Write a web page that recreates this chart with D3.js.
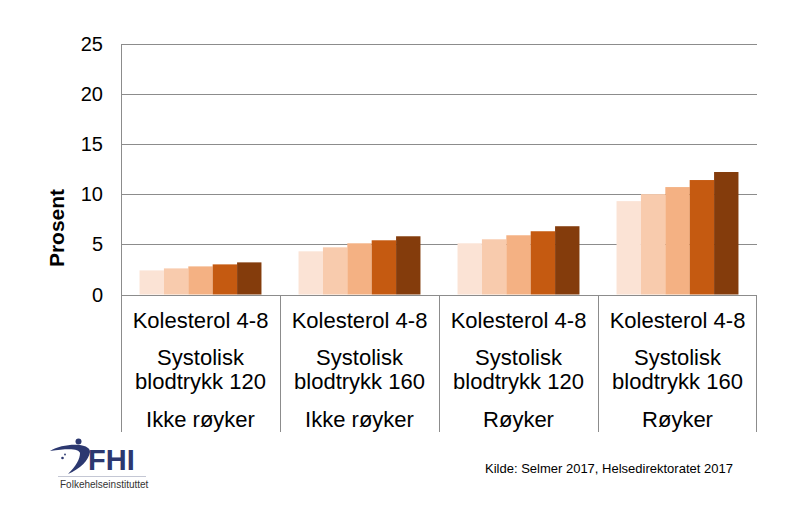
<!DOCTYPE html>
<html lang="no">
<head>
<meta charset="utf-8">
<title>Prosent</title>
<script src="https://d3js.org/d3.v7.min.js"></script>
<style>
  body { margin: 0; background: #fff; }
  svg { display: block; font-family: "Liberation Sans", Arial, sans-serif; }
</style>
</head>
<body>
<svg id="chart" width="789" height="511"></svg>
<script>
// data
var groups = ["g1", "g2", "g3", "g4"];
var cholLabels = ["Kolesterol 4-8", "Kolesterol 4-8", "Kolesterol 4-8", "Kolesterol 4-8"];
var bpLabels = [["Systolisk", "blodtrykk 120"], ["Systolisk", "blodtrykk 160"],
                ["Systolisk", "blodtrykk 120"], ["Systolisk", "blodtrykk 160"]];
var smokeLabels = ["Ikke røyker", "Ikke røyker", "Røyker", "Røyker"];
var series = ["s1", "s2", "s3", "s4", "s5"];
var values = [
    [2.4, 2.6, 2.8, 3.0, 3.2],
    [4.3, 4.7, 5.1, 5.4, 5.8],
    [5.1, 5.5, 5.9, 6.3, 6.8],
    [9.3, 10.0, 10.7, 11.4, 12.2]
];
var yTicks = [0, 5, 10, 15, 20, 25];
var colors = ["#fbe3d5", "#f8cbad", "#f4b183", "#c55a11", "#843c0c"];

var plotL = 121, plotR = 757, plotT = 43.5, plotB = 294.5, catBottom = 432;
var gridColor = "#8c8c8c";

var svg = d3.select("#chart");

var x0 = d3.scaleBand().domain(groups).range([plotL, plotR]).paddingInner(0).paddingOuter(0);
var x1 = d3.scaleBand().domain(series).range([0, x0.bandwidth()]).paddingInner(0).paddingOuter(0.76);
var y = d3.scaleLinear().domain([0, 25]).range([plotB, plotT]);
var color = d3.scaleOrdinal().domain(series).range(colors);

// gridlines
svg.append("g")
    .selectAll("line")
    .data(yTicks.filter(function(d) { return d > 0; }))
    .join("line")
    .attr("x1", plotL).attr("x2", plotR)
    .attr("y1", function(d) { return Math.round(y(d)) + 0.5; })
    .attr("y2", function(d) { return Math.round(y(d)) + 0.5; })
    .attr("stroke", gridColor).attr("stroke-width", 1);

// bars
var bar = svg.append("g")
    .selectAll("g")
    .data(groups)
    .join("g")
    .attr("transform", function(d) { return "translate(" + x0(d) + ",0)"; });

bar.selectAll("rect")
    .data(function(d, i) { return values[i].map(function(v, j) { return { s: series[j], v: v }; }); })
    .join("rect")
    .attr("x", function(d) { return x1(d.s); })
    .attr("width", x1.bandwidth())
    .attr("y", function(d) { return y(d.v); })
    .attr("height", function(d) { return y(0) - y(d.v); })
    .attr("fill", function(d) { return color(d.s); });

// y axis labels
svg.append("g")
    .selectAll("text")
    .data(yTicks)
    .join("text")
    .attr("x", 103)
    .attr("y", function(d) { return y(d); })
    .attr("dy", "0.35em")
    .attr("text-anchor", "end")
    .attr("font-size", 20)
    .attr("fill", "#000")
    .text(function(d) { return d; });

svg.append("text")
    .attr("transform", "translate(64,228) rotate(-90)")
    .attr("text-anchor", "middle")
    .attr("font-size", 21)
    .attr("font-weight", "bold")
    .text("Prosent");

// axis frame and category dividers
var axisY = Math.round(y(0)) + 0.5;
svg.append("line")
    .attr("x1", plotL).attr("x2", plotR)
    .attr("y1", axisY).attr("y2", axisY)
    .attr("stroke", gridColor);

svg.append("line")
    .attr("x1", plotL + 0.5).attr("x2", plotL + 0.5)
    .attr("y1", Math.round(y(25)) + 0.5).attr("y2", catBottom)
    .attr("stroke", gridColor);

svg.append("g")
    .selectAll("line")
    .data(groups.slice(1).concat(["end"]))
    .join("line")
    .attr("x1", function(d) { return d === "end" ? plotR - 0.5 : Math.round(x0(d)) + 0.5; })
    .attr("x2", function(d) { return d === "end" ? plotR - 0.5 : Math.round(x0(d)) + 0.5; })
    .attr("y1", axisY).attr("y2", catBottom)
    .attr("stroke", gridColor);

// category labels
var cat = svg.append("g")
    .attr("font-size", 22)
    .attr("text-anchor", "middle")
    .selectAll("g")
    .data(groups)
    .join("g")
    .attr("transform", function(d) { return "translate(" + (x0(d) + x0.bandwidth() / 2) + ",0)"; });

cat.append("text").attr("y", 328).text(function(d, i) { return cholLabels[i]; });
cat.append("text").attr("y", 365).text(function(d, i) { return bpLabels[i][0]; });
cat.append("text").attr("y", 389).text(function(d, i) { return bpLabels[i][1]; });
cat.append("text").attr("y", 427).text(function(d, i) { return smokeLabels[i]; });

// source
svg.append("text")
    .attr("x", 485).attr("y", 473)
    .attr("font-size", 13)
    .attr("fill", "#000")
    .text("Kilde: Selmer 2017, Helsedirektoratet 2017");

// FHI logo
var navy = "#2c3870";
var logo = svg.append("g");
logo.append("path")
    .attr("d", "M50,451 C58,446 70,444 80,445 C86,446 90,448 90,452 C89,460 80,469 68,474 C76,466 80,459 80,453 C79,449 70,448 50,451 Z")
    .attr("fill", navy);
logo.append("circle").attr("cx", 78.5).attr("cy", 441.5).attr("r", 3).attr("fill", navy);
logo.append("circle").attr("cx", 62.5).attr("cy", 458).attr("r", 1.3).attr("fill", navy);
logo.append("circle").attr("cx", 65).attr("cy", 454.5).attr("r", 0.9).attr("fill", navy);
logo.append("text")
    .attr("x", 88).attr("y", 470)
    .attr("font-size", 29)
    .attr("font-weight", "bold")
    .attr("fill", navy)
    .text("FHI");
logo.append("line")
    .attr("x1", 58).attr("x2", 146)
    .attr("y1", 476.5).attr("y2", 476.5)
    .attr("stroke", "#c4c7d4");
logo.append("text")
    .attr("x", 60).attr("y", 488)
    .attr("font-size", 10)
    .attr("fill", "#333")
    .text("Folkehelseinstituttet");
</script>
</body>
</html>
